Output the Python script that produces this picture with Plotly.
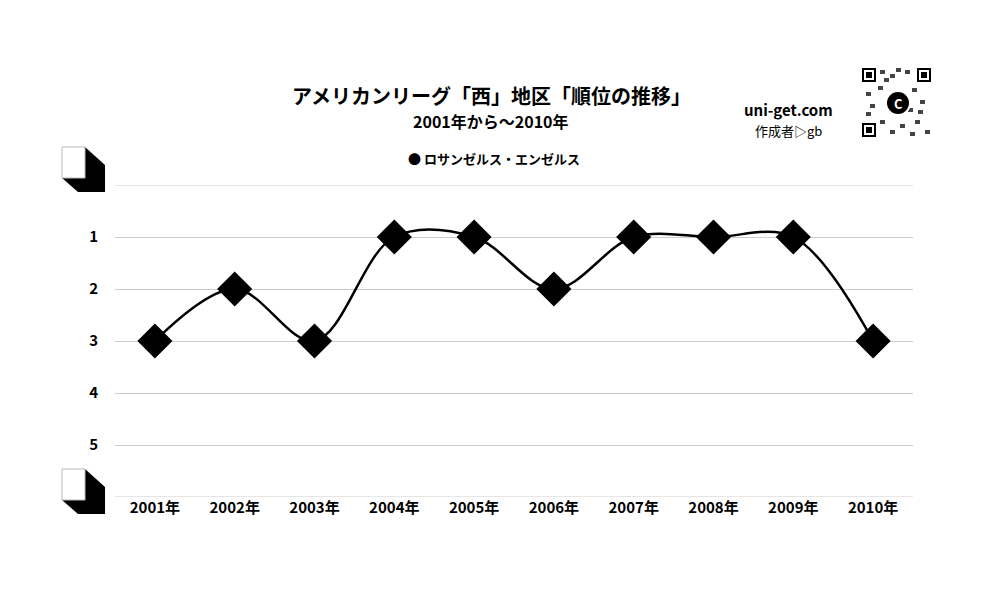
import plotly.graph_objects as go

years = ["2001年","2002年","2003年","2004年","2005年","2006年","2007年","2008年","2009年","2010年"]
ranks = [3, 2, 3, 1, 1, 2, 1, 1, 1, 3]
series_name = "ロサンゼルス・エンゼルス"
ytick_vals = [1, 2, 3, 4, 5]

F = "Noto Sans CJK JP"
OFF = 8
L, T, W, H = 107, 177, 798, 312

def P(X, Y):
    x = X - OFF; y = Y - OFF
    return (x - L) / W, 1 - (y - T) / H

fig = go.Figure(go.Scatter(
    x=years, y=ranks, mode="lines+markers", name=series_name,
    line=dict(color="black", width=2.5, shape="spline", smoothing=1),
    marker=dict(symbol="diamond", size=27, color="black"),
))
fig.update_layout(
    width=1000, height=600, plot_bgcolor="white", paper_bgcolor="white",
    margin=dict(l=L, r=1000 - L - W, t=T, b=600 - T - H),
    font=dict(family=F, color="black"),
    showlegend=False,
    xaxis=dict(range=[-0.5, len(years) - 0.5], showgrid=False, showline=False, ticks="",
               tickfont=dict(size=15, family=F, weight="bold")),
    yaxis=dict(range=[6, 0], tickvals=ytick_vals, showgrid=True, gridcolor="#cccccc", gridwidth=1,
               zeroline=False, ticks="", ticklabelstandoff=16,
               tickfont=dict(size=15, family=F, weight="bold")),
)
for yv in (0, 6):
    fig.add_shape(type="line", xref="paper", yref="y", x0=0, x1=1, y0=yv, y1=yv,
                  line=dict(color="#cccccc", width=1))

def text(X, Y, s, size, weight="bold", color="black"):
    x, y = P(X, Y)
    fig.add_annotation(xref="paper", yref="paper", x=x, y=y, text=s, showarrow=False,
                       xanchor="center", yanchor="middle",
                       font=dict(size=size, family=F, weight=weight, color=color))

text(491, 95, "アメリカンリーグ「西」地区「順位の推移」", 20)
text(491, 121, "2001年から～2010年", 16)
text(494, 158, "● " + series_name, 13)
text(788, 109, "uni-get.com", 15)
text(788, 131, "作成者▷gb", 13, weight="normal")

def rect(X0, Y0, X1, Y1, fill="black", line=None):
    x0, y0 = P(X0, Y0); x1, y1 = P(X1, Y1)
    fig.add_shape(type="rect", xref="paper", yref="paper", x0=x0, x1=x1, y0=y0, y1=y1,
                  fillcolor=fill, line=dict(width=0) if line is None else line)

def poly(pts, fill="black"):
    path = "M " + " L ".join("%f,%f" % P(X, Y) for X, Y in pts) + " Z"
    fig.add_shape(type="path", xref="paper", yref="paper", path=path, fillcolor=fill, line=dict(width=0))

# QR-like mark
for (qx, qy) in [(862, 68), (917, 68), (862, 123)]:
    rect(qx, qy, qx+14, qy+14)
    rect(qx+2, qy+2, qx+12, qy+12, fill="white")
    rect(qx+4, qy+4, qx+10, qy+10)
for (qx, qy) in [(880,70),(890,74),(905,70),(878,86),(866,92),(912,88),(920,100),(880,120),(900,124),
                 (915,120),(925,130),(870,104),(908,108),(884,78),(896,68),(918,110),(866,112),(890,130),(910,132)]:
    rect(qx, qy, qx+5, qy+4, fill="#444")
cx0, cy0 = P(886, 115); cx1, cy1 = P(910, 91)
fig.add_shape(type="circle", xref="paper", yref="paper", x0=cx0, x1=cx1, y0=cy0, y1=cy1,
              fillcolor="black", line=dict(color="white", width=2))
text(898, 103, "C", 13, color="white")

def corner(top):
    poly([(85, top), (105, top+18), (105, top+45), (78, top+45), (62, top+31), (85, top+31)])
    rect(62, top, 85, top+31, fill="white", line=dict(color="#bbb", width=1))
corner(147)
corner(469)
fig.write_html("out.html")
